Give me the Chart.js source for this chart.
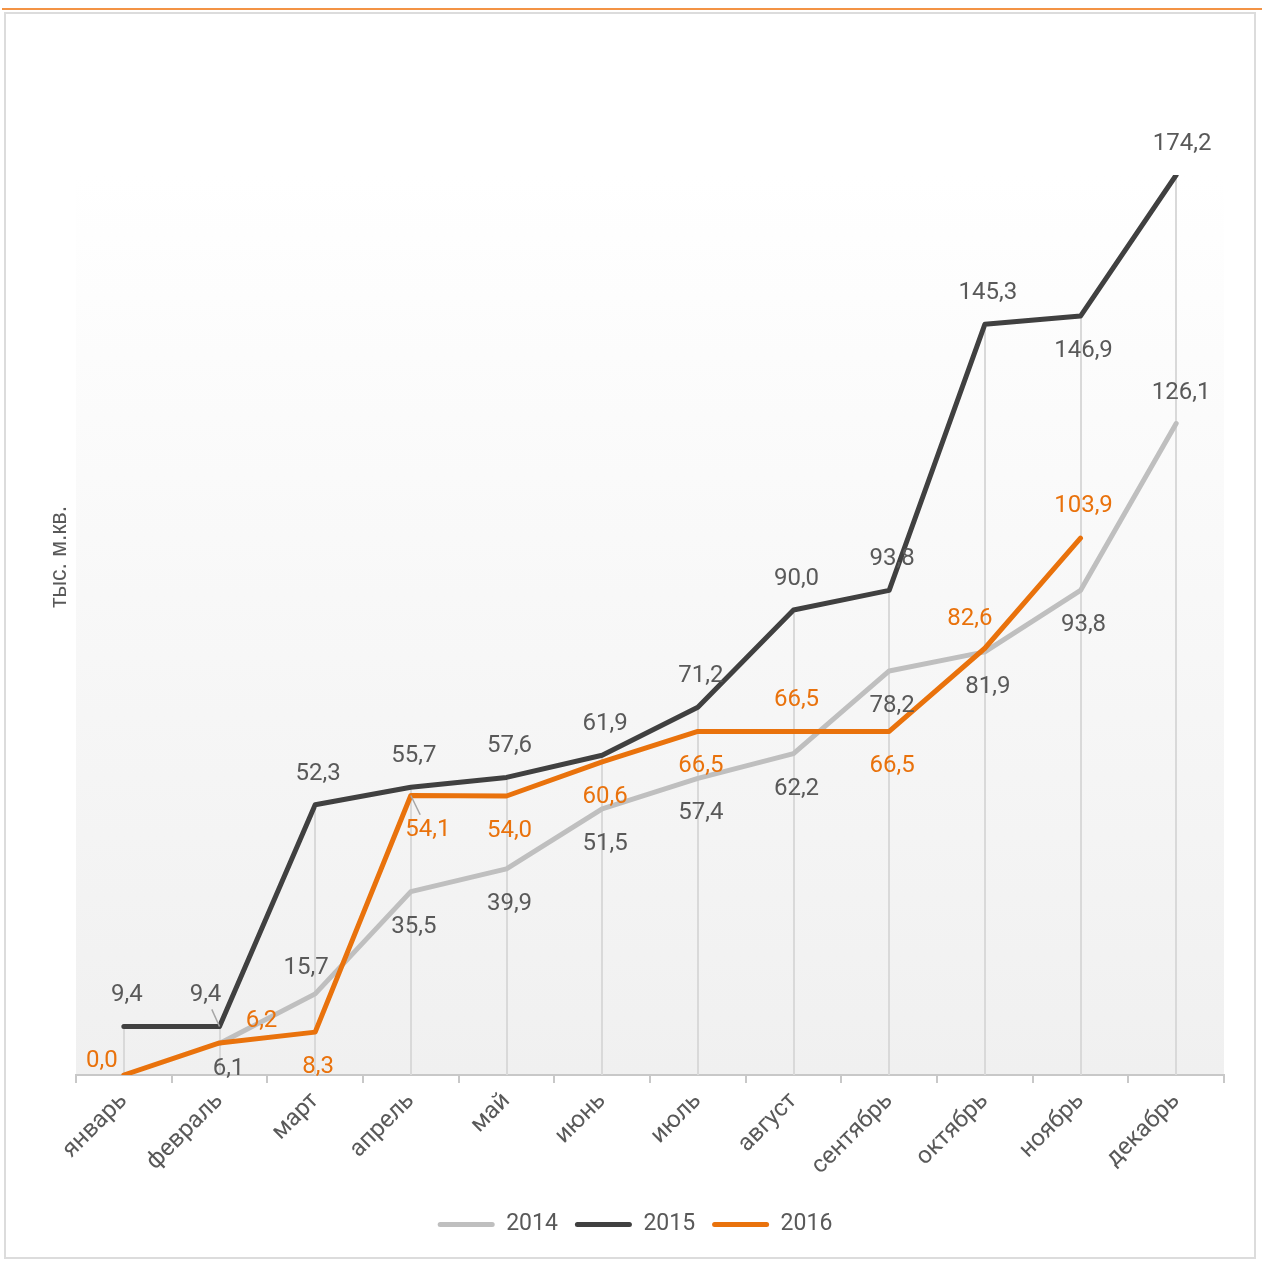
<!DOCTYPE html>
<html><head><meta charset="utf-8">
<script src="https://cdn.jsdelivr.net/npm/chart.js@4/dist/chart.umd.min.js"></script>
<style>
html,body{margin:0;padding:0;background:#fff;}
#wrap{position:relative;width:1264px;height:1261px;overflow:hidden;}
#topline{position:absolute;left:2px;top:8px;width:1260px;height:2px;background:#f39345;}
#card{position:absolute;left:4px;top:12px;width:1248px;height:1243px;border:2px solid #dcdcdc;background:#fff;}
canvas{position:absolute;left:0;top:0;}
</style></head>
<body><div id="wrap"><div id="topline"></div><div id="card"></div><canvas id="c" width="1264" height="1261"></canvas></div>
<script>
const categories = ['январь','февраль','март','апрель','май','июнь','июль','август','сентябрь','октябрь','ноябрь','декабрь'];
const values2014 = [null, 6.1, 15.7, 35.5, 39.9, 51.5, 57.4, 62.2, 78.2, 81.9, 93.8, 126.1];
const values2015 = [9.4, 9.4, 52.3, 55.7, 57.6, 61.9, 71.2, 90.0, 93.8, 145.3, 146.9, 174.2];
const values2016 = [0.0, 6.2, 8.3, 54.1, 54.0, 60.6, 66.5, 66.5, 66.5, 82.6, 103.9, null];
const seriesNames = ['2014', '2015', '2016'];
const yAxisTitle = 'тыс. м.кв.';
const yMax = 174.2;

// label placement relative to each point: [dx, dy, leaderLine]
const A = [3, -31], B = [3, 35];
const labelPlace2014 = [null, [9, 26], [-9, -26], B, B, B, B, B, B, B, B, [5, -31]];
const labelPlace2015 = [A, [-14, -31, 1], A, A, A, A, A, A, A, A, B, [6, -31]];
const labelPlace2016 = [[-22, -14], [42, -22], B, [17, 35, 1], B, B, B, A, B, [-15, -29], [3, -32], null];

const GRAY = '#bfbfbf', DARK = '#404040', ORANGE = '#e9720c', TEXT = '#595959';

const bgPlugin = {
  id: 'plotBg',
  beforeDraw(chart) {
    const {ctx, chartArea: a} = chart;
    const g = ctx.createLinearGradient(0, a.top, 0, a.bottom);
    g.addColorStop(0, '#ffffff');
    g.addColorStop(1, '#f0f0f0');
    ctx.save();
    ctx.fillStyle = g;
    ctx.fillRect(a.left, a.top, a.right - a.left, a.bottom - a.top);
    ctx.restore();
  }
};

const dropLinePlugin = {
  id: 'dropLines',
  beforeDatasetsDraw(chart) {
    const {ctx, scales: {x, y}} = chart;
    ctx.save();
    ctx.strokeStyle = '#d9d9d9';
    ctx.lineWidth = 2;
    categories.forEach((c, i) => {
      const vals = chart.data.datasets.map(d => d.data[i]).filter(v => v !== null && v !== undefined);
      if (!vals.length) return;
      const px = Math.round(x.getPixelForValue(i));
      ctx.beginPath();
      ctx.moveTo(px, y.getPixelForValue(Math.max(...vals)));
      ctx.lineTo(px, y.getPixelForValue(0));
      ctx.stroke();
    });
    ctx.restore();
  }
};

const fmt = v => v.toFixed(1).replace('.', ',');

const labelPlugin = {
  id: 'valueLabels',
  afterDatasetsDraw(chart) {
    const ctx = chart.ctx;
    ctx.save();
    ctx.font = '24px Roboto';
    ctx.textAlign = 'center';
    ctx.textBaseline = 'middle';
    chart.data.datasets.forEach((ds, di) => {
      const meta = chart.getDatasetMeta(di);
      meta.data.forEach((pt, i) => {
        const v = ds.data[i];
        const p = ds.labelPlace[i];
        if (v === null || v === undefined || !p) return;
        const lx = pt.x + p[0], ly = pt.y + p[1];
        if (p[2]) {
          ctx.strokeStyle = '#a6a6a6';
          ctx.lineWidth = 1.5;
          ctx.beginPath();
          ctx.moveTo(pt.x, pt.y);
          ctx.lineTo(pt.x + p[0] * 0.55, pt.y + p[1] * 0.55);
          ctx.stroke();
        }
        ctx.fillStyle = ds.labelColor;
        ctx.fillText(fmt(v), lx, ly);
      });
    });
    ctx.restore();
  },
  afterDraw(chart) {
    const ctx = chart.ctx;
    ctx.save();
    ctx.translate(60, 557);
    ctx.rotate(-Math.PI / 2);
    ctx.font = '23px "Liberation Sans"';
    ctx.fillStyle = TEXT;
    ctx.textAlign = 'center';
    ctx.textBaseline = 'middle';
    ctx.fillText(yAxisTitle, 0, 0);
    ctx.restore();
  }
};

const mk = (label, data, color, labelColor, place, order) => ({
  label, data, borderColor: color, backgroundColor: color, borderWidth: 5,
  borderCapStyle: 'round', borderJoinStyle: 'round', pointRadius: 0, pointHoverRadius: 0,
  tension: 0, fill: false, labelColor, labelPlace: place, order
});

new Chart(document.getElementById('c'), {
  type: 'line',
  data: {
    labels: categories,
    datasets: [
      mk(seriesNames[0], values2014, GRAY, TEXT, labelPlace2014, 3),
      mk(seriesNames[1], values2015, DARK, TEXT, labelPlace2015, 2),
      mk(seriesNames[2], values2016, ORANGE, ORANGE, labelPlace2016, 1)
    ]
  },
  options: {
    responsive: false,
    animation: false,
    layout: { padding: { left: 46, right: 40, top: 175, bottom: 15 } },
    scales: {
      x: {
        type: 'category',
        offset: true,
        grid: { offset: true, drawOnChartArea: false, drawTicks: true, tickLength: 8, color: '#c8c8c8', lineWidth: 2 },
        border: { display: true, color: '#c8c8c8', width: 2 },
        ticks: { color: TEXT, font: { family: 'Roboto', size: 24 }, minRotation: 45, maxRotation: 45, padding: 4, autoSkip: false },
        afterFit(scale) { scale.height = 121; }
      },
      y: {
        min: 0, max: yMax,
        display: true,
        grid: { display: false },
        border: { display: false },
        ticks: { display: false },
        afterFit(scale) { scale.width = 30; }
      }
    },
    plugins: {
      legend: {
        position: 'bottom',
        labels: {
          color: TEXT,
          font: { family: 'Roboto', size: 23 },
          boxWidth: 57, boxHeight: 5,
          useBorderRadius: true, borderRadius: 2.5,
          padding: 17,
          sort: (a, b) => a.datasetIndex - b.datasetIndex,
          generateLabels(chart) {
            const items = Chart.defaults.plugins.legend.labels.generateLabels(chart);
            items.forEach(it => { it.lineWidth = 0; });
            return items;
          }
        }
      },
      tooltip: { enabled: false }
    }
  },
  plugins: [bgPlugin, dropLinePlugin, labelPlugin]
});
</script>
</body></html>
